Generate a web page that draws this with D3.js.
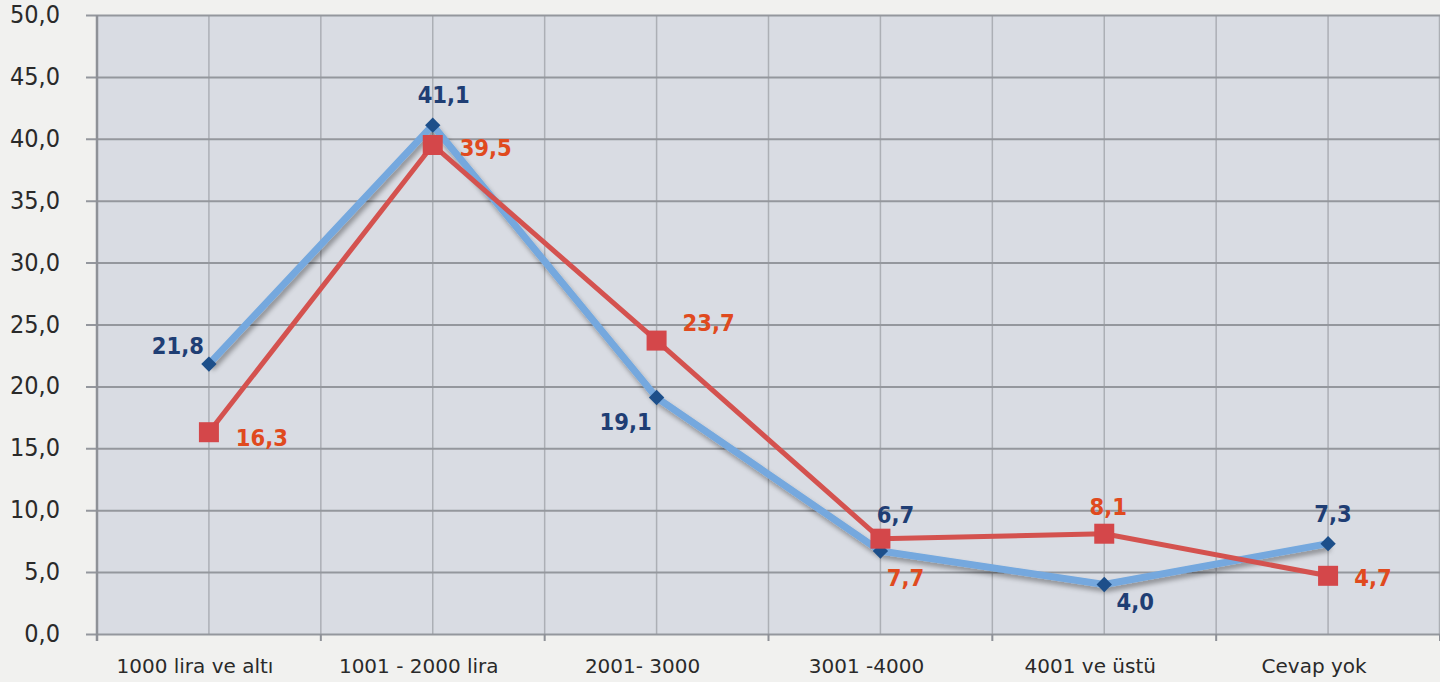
<!DOCTYPE html>
<html><head><meta charset="utf-8">
<script src="https://cdn.jsdelivr.net/npm/d3@7"></script>
<style>
html,body{margin:0;padding:0;background:#f1f1ef;}
svg{display:block;}
</style></head>
<body>
<svg id="chart" width="1440" height="682"></svg>
<script>
const categories = ["1000 lira ve altı", "1001 - 2000 lira", "2001- 3000", "3001 -4000", "4001 ve üstü", "Cevap yok"];
const seriesBlue = [21.8, 41.1, 19.1, 6.7, 4.0, 7.3];
const seriesRed = [16.3, 39.5, 23.7, 7.7, 8.1, 4.7];
const yTicks = [0, 5, 10, 15, 20, 25, 30, 35, 40, 45, 50];

// label offsets (layout only)
const blueLabelOffsets = [[-31, -18], [11, -30], [-31, 24], [15, -36], [31, 17], [5, -30]];
const redLabelOffsets = [[53, 6], [53, 3], [52, -18], [25, 39], [4, -27], [45, 2]];

const W = 1440, H = 682;
const m = {left: 97, right: 0, top: 15, bottom: 48};
const svg = d3.select("#chart");
const FONT = "'DejaVu Sans Condensed', 'DejaVu Sans', sans-serif";
const FONT2 = "'DejaVu Sans', sans-serif";

const x = d3.scaleBand().domain(categories).range([m.left, W - m.right]).padding(0);
const y = d3.scaleLinear().domain([0, 50]).range([H - m.bottom, m.top]);
const cx = d => x(d) + x.bandwidth() / 2;

svg.append("rect").attr("x", m.left).attr("y", m.top)
  .attr("width", W - m.left - m.right).attr("height", y(0) - m.top).attr("fill", "#d9dce3");

const defs = svg.append("defs");
const f = defs.append("filter").attr("id", "shadow").attr("x", "-10%").attr("y", "-10%").attr("width", "120%").attr("height", "130%");
f.append("feGaussianBlur").attr("in", "SourceAlpha").attr("stdDeviation", 2.5).attr("result", "b");
f.append("feOffset").attr("in", "b").attr("dx", 2).attr("dy", 4).attr("result", "o");
f.append("feComponentTransfer").attr("in", "o").attr("result", "o2")
  .append("feFuncA").attr("type", "linear").attr("slope", 0.35);
const fm = f.append("feMerge");
fm.append("feMergeNode").attr("in", "o2");
fm.append("feMergeNode").attr("in", "SourceGraphic");

// vertical gridlines (band edges and centers)
const g = svg.append("g");
categories.forEach((c, i) => {
  [x(c), cx(c)].forEach(px => {
    g.append("line").attr("x1", px).attr("x2", px).attr("y1", m.top).attr("y2", y(0))
      .attr("stroke", "#acafb5").attr("stroke-width", 1.5);
  });
});
g.append("line").attr("x1", W - 0.5).attr("x2", W - 0.5).attr("y1", m.top).attr("y2", y(0))
  .attr("stroke", "#acafb5").attr("stroke-width", 1.5);

// y axis
const yAxis = d3.axisLeft(y).tickValues(yTicks).tickSize(W - m.left - m.right + 11)
  .tickFormat(d => d3.format(".1f")(d).replace(".", ","));
const ya = svg.append("g").attr("transform", `translate(${W - m.right},0)`).call(yAxis);
ya.select(".domain").remove();
ya.selectAll(".tick line").attr("stroke", "#94979d").attr("stroke-width", 2);
ya.selectAll(".tick text").attr("x", -(W - m.left - m.right) - 37)
  .attr("fill", "#2a2a2a").attr("font-size", 25).attr("font-family", FONT)
  .attr("dy", "0.3em");

// left axis line
svg.append("line").attr("x1", m.left).attr("x2", m.left).attr("y1", m.top).attr("y2", y(0) + 7)
  .attr("stroke", "#8e9197").attr("stroke-width", 2.5);

// x axis
const xAxis = d3.axisBottom(x).tickSize(0);
const xa = svg.append("g").attr("transform", `translate(0,${y(0)})`).call(xAxis);
xa.select(".domain").remove();
xa.selectAll(".tick text").attr("dy", 0).attr("y", 39).attr("x", -14)
  .attr("fill", "#2a2a2a").attr("font-size", 20).attr("font-family", FONT2);
categories.forEach(c => {
  svg.append("line").attr("x1", x(c) + x.bandwidth()).attr("x2", x(c) + x.bandwidth())
    .attr("y1", y(0)).attr("y2", y(0) + 7).attr("stroke", "#8e9197").attr("stroke-width", 2);
});

const line = d3.line().x((d, i) => cx(categories[i])).y(d => y(d));

// blue series
svg.append("path").datum(seriesBlue).attr("d", line).attr("fill", "none")
  .attr("stroke", "#74a8de").attr("stroke-width", 7).attr("stroke-linejoin", "round")
  .attr("filter", "url(#shadow)");
// red series
svg.append("path").datum(seriesRed).attr("d", line).attr("fill", "none")
  .attr("stroke", "#d4524f").attr("stroke-width", 5).attr("stroke-linejoin", "round");

svg.append("g").selectAll("path").data(seriesBlue).join("path")
  .attr("d", d3.symbol(d3.symbolDiamond2, 150)())
  .attr("transform", (d, i) => `translate(${cx(categories[i])},${y(d)})`)
  .attr("fill", "#1d4f8a");

svg.append("g").selectAll("rect").data(seriesRed).join("rect")
  .attr("x", (d, i) => cx(categories[i]) - 10).attr("y", d => y(d) - 10)
  .attr("width", 20).attr("height", 20).attr("fill", "#d4474a");

const fmt = d => d3.format(".1f")(d).replace(".", ",");
svg.append("g").selectAll("text").data(seriesBlue).join("text")
  .attr("x", (d, i) => cx(categories[i]) + blueLabelOffsets[i][0])
  .attr("y", (d, i) => y(d) + blueLabelOffsets[i][1])
  .attr("text-anchor", "middle").attr("dy", "0.35em")
  .attr("fill", "#1f3e74").attr("font-size", 23.5).attr("font-weight", "bold")
  .attr("font-family", FONT)
  .text(fmt);
svg.append("g").selectAll("text").data(seriesRed).join("text")
  .attr("x", (d, i) => cx(categories[i]) + redLabelOffsets[i][0])
  .attr("y", (d, i) => y(d) + redLabelOffsets[i][1])
  .attr("text-anchor", "middle").attr("dy", "0.35em")
  .attr("fill", "#e04a1e").attr("font-size", 23.5).attr("font-weight", "bold")
  .attr("font-family", FONT)
  .text(fmt);
</script>
</body></html>
